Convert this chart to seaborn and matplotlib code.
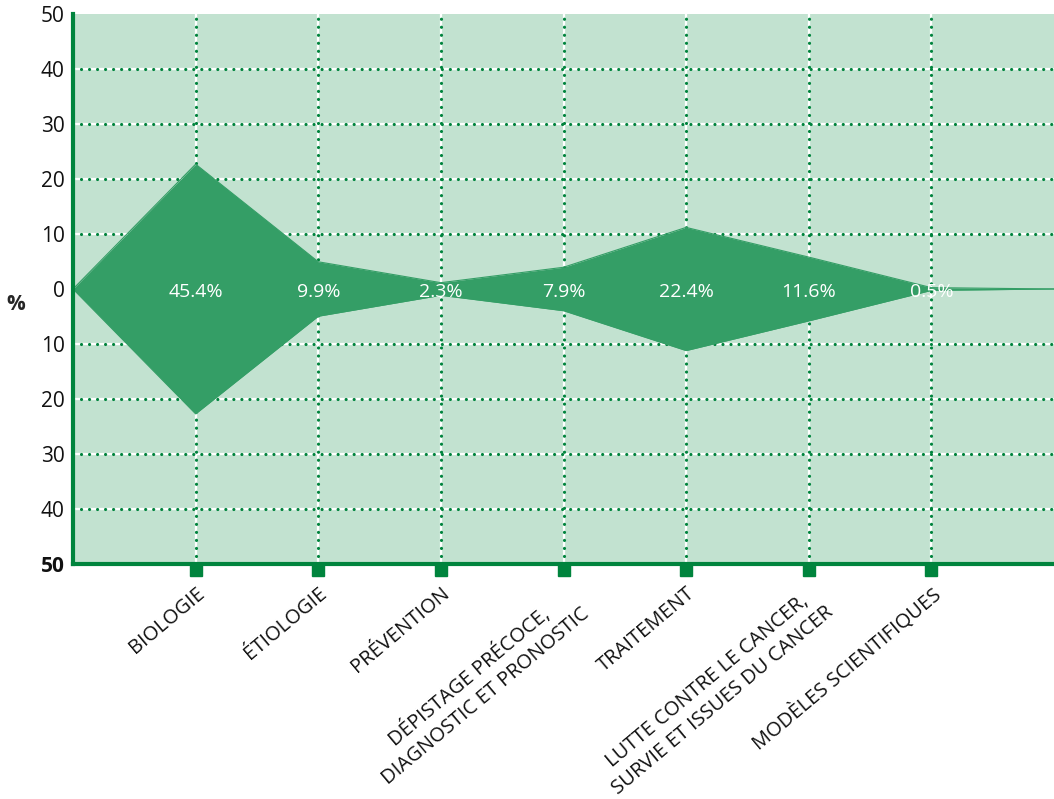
import numpy as np
import pandas as pd
import seaborn as sns
import matplotlib.pyplot as plt

# Data
categories = ["BIOLOGIE", "ÉTIOLOGIE", "PRÉVENTION",
              "DÉPISTAGE PRÉCOCE,\nDIAGNOSTIC ET PRONOSTIC", "TRAITEMENT",
              "LUTTE CONTRE LE CANCER,\nSURVIE ET ISSUES DU CANCER",
              "MODÈLES SCIENTIFIQUES"]
shares = [45.4, 9.9, 2.3, 7.9, 22.4, 11.6, 0.5]
ytick_vals = [-50, -40, -30, -20, -10, 0, 10, 20, 30, 40, 50]
ytick_labels = ["50", "40", "30", "20", "10", "0", "10", "20", "30", "40", "50"]

GREEN = "#00843d"
FILL = "#349e66"
BG = "#c2e2d0"

sns.set_style("white")
plt.rcParams["font.family"] = ["Open Sans", "DejaVu Sans"]
plt.rcParams["text.color"] = "#111111"
plt.rcParams["xtick.color"] = "#111111"
plt.rcParams["ytick.color"] = "#111111"

# profile: zero at both ends, categories in between
xs = np.arange(len(categories) + 2)
half = [0] + [s / 2 for s in shares] + [0]
df = pd.DataFrame({"x": xs, "upper": half, "lower": [-h for h in half]})

fig = plt.figure(figsize=(10.54, 7.99), dpi=100)
ax = fig.add_axes([73 / 1054, 1 - 564 / 799, 981 / 1054, 550 / 799])
ax.set_facecolor(BG)

# grid: white line with round green dots on top
dots = dict(color=GREEN, lw=2.3, ls=(0, (0.01, 2.5)), dash_capstyle="round")
for y in [-40, -30, -20, -10, 10, 20, 30, 40]:
    ax.axhline(y, color="white", lw=1.6, zorder=1)
    ax.axhline(y, zorder=1.1, **dots)
for x in range(1, len(categories) + 1):
    ax.axvline(x, color="white", lw=1.6, zorder=1)
    ax.axvline(x, zorder=1.1, **dots)

ax.fill_between(df["x"], df["lower"], df["upper"], color=FILL, lw=0, zorder=2)
sns.lineplot(data=df, x="x", y="upper", color=FILL, lw=0.8, ax=ax, zorder=2)
sns.lineplot(data=df, x="x", y="lower", color=FILL, lw=0.8, ax=ax, zorder=2)

for i, s in enumerate(shares):
    ax.text(i + 1, -0.5, f"{s}%", color="white", fontsize=14,
            ha="center", va="center", zorder=3)

ax.set_xlim(0, len(categories) + 1)
ax.set_ylim(-50, 50)
ax.set_yticks(ytick_vals)
ax.set_yticklabels(ytick_labels, fontsize=15)
ax.get_yticklabels()[0].set_fontweight("bold")
ax.tick_params(axis="y", length=0, pad=6)

ax.set_xticks(range(1, len(categories) + 1))
ax.set_xticklabels(categories, rotation=40, ha="right", rotation_mode="anchor",
                   fontsize=14.5, multialignment="center", linespacing=1.3)
ax.tick_params(axis="x", length=0, pad=14)

# square tick markers below the axis
ax.plot(range(1, len(categories) + 1), [-51.1] * len(categories), ls="none",
        marker="s", ms=8, color=GREEN, clip_on=False, zorder=5)

ax.set_xlabel("")
ax.set_ylabel("%", rotation=0, fontsize=15, fontweight="bold", va="center")
ax.yaxis.set_label_coords(-0.058, 0.471)

for side in ["top", "right"]:
    ax.spines[side].set_visible(False)
for side in ["left", "bottom"]:
    ax.spines[side].set_color(GREEN)
    ax.spines[side].set_linewidth(3)

fig.savefig("out.png", dpi=100)
